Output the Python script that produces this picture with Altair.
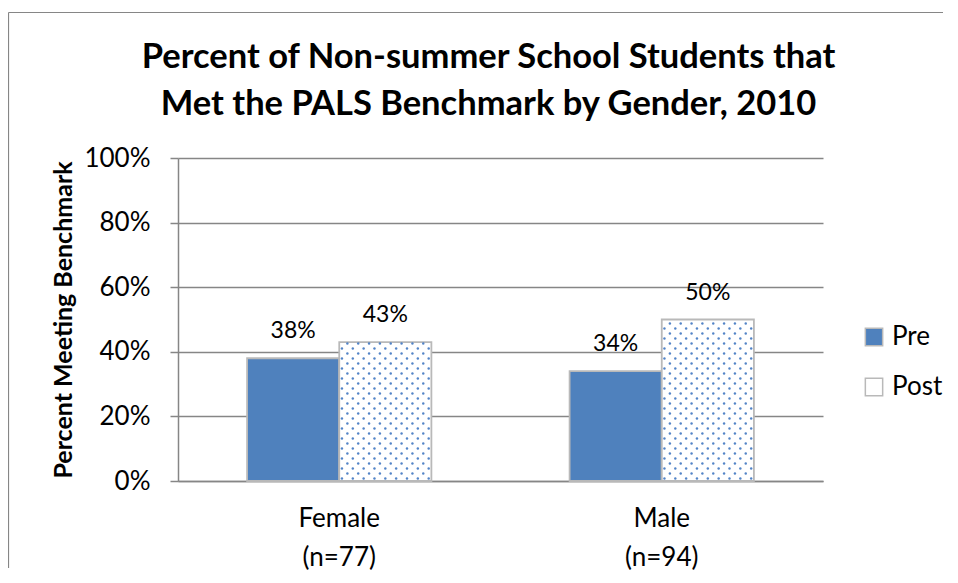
import altair as alt
import pandas as pd

genders = ["Female", "Male"]
counts = [77, 94]
series = ["Pre", "Post"]
pre_vals = [0.38, 0.34]
post_vals = [0.43, 0.50]

colors = ["#4f81bd", "#ffffff"]
FONT = "Lato"

cats = [f"{g}|(n={n})" for g, n in zip(genders, counts)]
rows = []
for c, a, b in zip(cats, pre_vals, post_vals):
    rows.append({"cat": c, "series": "Pre", "value": a})
    rows.append({"cat": c, "series": "Post", "value": b})
df = pd.DataFrame(rows)

# dotted texture for the "Post" bars (decoration inside the bar)
BAR_FRAC = 1 / 3.5          # one bar's width as a fraction of the band
N_HALF = 17                  # half-step columns across a bar
ROW_DY = 5 / 323             # row spacing in value units (~5px)
dots = []
for c, v in zip(cats, post_vals):
    r = 0
    while (r + 0.6) * ROW_DY < v:
        for k in range(N_HALF):
            if (k + r) % 2 == 0:
                dots.append({"cat": c,
                             "fx": 0.5 + (k + 0.5) * BAR_FRAC / N_HALF,
                             "fy": (r + 0.5) * ROW_DY})
        r += 1
dots_df = pd.DataFrame(dots)

off_scale = alt.Scale(domain=series, paddingInner=0, paddingOuter=0.75)

x_enc = alt.X("cat:N", sort=cats,
              scale=alt.Scale(paddingInner=0, paddingOuter=0),
              axis=alt.Axis(title=None, labelAngle=0, ticks=False,
                            labelExpr="split(datum.label, '|')",
                            labelFont=FONT, labelFontSize=26, labelColor="#000000",
                            labelLineHeight=39, labelPadding=24,
                            domainColor="#868686", domainWidth=1.5))
y_enc = alt.Y("value:Q",
              scale=alt.Scale(domain=[0, 1]),
              axis=alt.Axis(title="Percent Meeting Benchmark", format=".0%",
                            values=[0, 0.2, 0.4, 0.6, 0.8, 1.0],
                            titleFont=FONT, titleFontSize=25, titleFontWeight="bold",
                            titleColor="#000000", titlePadding=7,
                            labelFont=FONT, labelFontSize=26, labelColor="#000000",
                            labelPadding=20, tickSize=8, tickColor="#868686",
                            tickWidth=1.5,
                            domainColor="#868686", domainWidth=1.5,
                            grid=True, gridColor="#868686", gridWidth=1.3))

bars = alt.Chart(df).mark_bar(stroke="#b9b9b9", strokeWidth=1.8).encode(
    x=x_enc,
    xOffset=alt.XOffset("series:N", sort=series, scale=off_scale),
    y=y_enc,
    color=alt.Color("series:N", sort=series,
                    scale=alt.Scale(domain=series, range=colors),
                    legend=alt.Legend(title=None, orient="none", legendX=683, legendY=166,
                                      symbolType="square", symbolSize=300,
                                      symbolStrokeColor="#b9b9b9", symbolStrokeWidth=1.5,
                                      symbolOpacity=1,
                                      labelFont=FONT, labelFontSize=26, labelColor="#000000",
                                      labelOffset=5, rowPadding=24)),
)

labels = alt.Chart(df).mark_text(font=FONT, fontSize=23, color="#000000",
                                 baseline="middle", dy=-27).encode(
    x=alt.X("cat:N", sort=cats),
    xOffset=alt.XOffset("series:N", sort=series, scale=off_scale),
    y=alt.Y("value:Q"),
    text=alt.Text("value:Q", format=".0%"),
)

texture = alt.Chart(dots_df).mark_circle(size=6, color="#4a7dc4", opacity=0.95).encode(
    x=alt.X("cat:N", sort=cats),
    xOffset=alt.XOffset("fx:Q", scale=alt.Scale(domain=[0, 1])),
    y=alt.Y("fy:Q"),
)

frame_v = alt.Chart(alt.Data(values=[{}])).mark_rule(color="#868686", strokeWidth=1.2).encode(
    x=alt.value(-169.5), y=alt.value(-145.5), y2=alt.value(410))
frame_h = alt.Chart(alt.Data(values=[{}])).mark_rule(color="#868686", strokeWidth=1.2).encode(
    x=alt.value(-169.5), x2=alt.value(765), y=alt.value(-145.5))

chart = alt.layer(alt.layer(bars, labels), texture, frame_v, frame_h).resolve_scale(
    xOffset="independent"
).properties(
    width=645, height=323,
    title=alt.TitleParams(
        ["Percent of Non-summer School Students that",
         "Met the PALS Benchmark by Gender, 2010"],
        font=FONT, fontSize=34.5, fontWeight="bold", color="#000000",
        lineHeight=47, anchor="middle", dx=-12, baseline="bottom", offset=-145),
    padding={"left": 170, "top": 150, "right": 127, "bottom": 90},
    autosize=alt.AutoSizeParams(type="none"),
).configure_view(stroke=None)

chart.save("out.html", embed_options={"renderer": "svg", "actions": False})
